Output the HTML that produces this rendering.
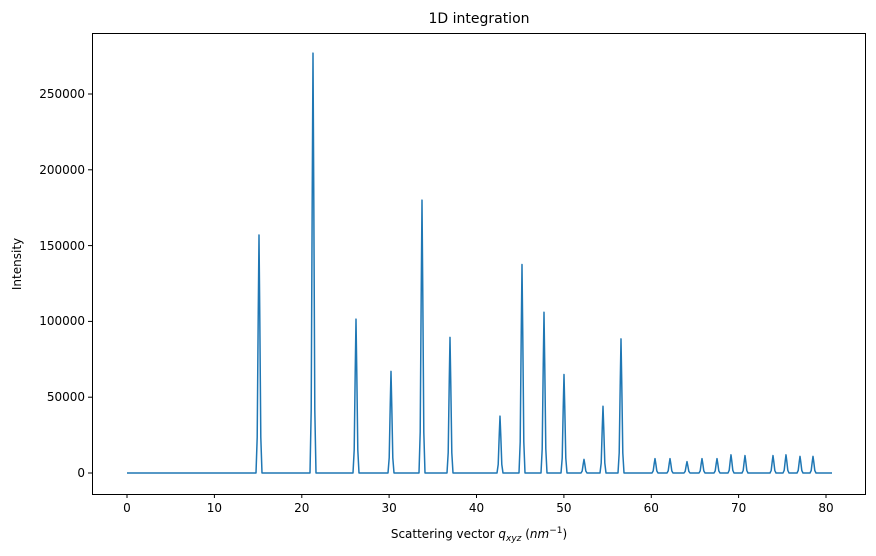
<!DOCTYPE html>
<html><head><meta charset="utf-8"><style>
body{margin:0;background:#fff;}
svg{display:block;font-family:"DejaVu Sans","Liberation Sans",sans-serif;}
</style></head><body>
<svg width="876" height="556" viewBox="0 0 876 556" xmlns="http://www.w3.org/2000/svg">
<rect width="876" height="556" fill="#fff"/>
<text x="479" y="23" font-size="14" text-anchor="middle" fill="#000">1D integration</text>
<rect x="92.5" y="33.5" width="773" height="461" fill="none" stroke="#000" stroke-width="1"/>
<g stroke="#000" stroke-width="1">
<line x1="127" y1="494" x2="127" y2="498"/><line x1="214.4" y1="494" x2="214.4" y2="498"/>
<line x1="301.8" y1="494" x2="301.8" y2="498"/><line x1="389.1" y1="494" x2="389.1" y2="498"/>
<line x1="476.5" y1="494" x2="476.5" y2="498"/><line x1="563.9" y1="494" x2="563.9" y2="498"/>
<line x1="651.3" y1="494" x2="651.3" y2="498"/><line x1="738.6" y1="494" x2="738.6" y2="498"/>
<line x1="826" y1="494" x2="826" y2="498"/>
<line x1="88" y1="473" x2="92" y2="473"/><line x1="88" y1="397.2" x2="92" y2="397.2"/>
<line x1="88" y1="321.4" x2="92" y2="321.4"/><line x1="88" y1="245.6" x2="92" y2="245.6"/>
<line x1="88" y1="169.8" x2="92" y2="169.8"/><line x1="88" y1="94" x2="92" y2="94"/>
</g>
<g font-size="12" fill="#000" text-anchor="middle">
<text x="127" y="512">0</text><text x="214.4" y="512">10</text><text x="301.8" y="512">20</text>
<text x="389.1" y="512">30</text><text x="476.5" y="512">40</text><text x="563.9" y="512">50</text>
<text x="651.3" y="512">60</text><text x="738.6" y="512">70</text><text x="826" y="512">80</text>
</g>
<g font-size="12" fill="#000" text-anchor="end">
<text x="85" y="477">0</text><text x="85" y="401">50000</text><text x="85" y="325">100000</text>
<text x="85" y="250">150000</text><text x="85" y="174">200000</text><text x="85" y="98">250000</text>
</g>
<text x="479" y="538" font-size="12" text-anchor="middle">Scattering vector <tspan font-style="italic">q</tspan><tspan font-style="italic" font-size="9" dy="3">xyz</tspan><tspan dy="-3"> (</tspan><tspan font-style="italic">nm</tspan><tspan font-size="9" dy="-5">−1</tspan><tspan dy="5">)</tspan></text>
<text transform="translate(21,264) rotate(-90)" font-size="12" text-anchor="middle">Intensity</text>
<path id="p" fill="none" stroke="#1f77b4" stroke-width="1.5" stroke-linejoin="round"/>
<script>
var pk=[[259,157000],[313,277000],[356,101500],[391,67000],[422,180000],[450,89500],[500,37500],[522,137500],[544,106000],[564,65000],[584,9000],[603,44000],[621,88500],[655,9500],[670,9500],[687,7500],[702,9500],[717,9500],[731,12000],[745,11500],[773,11500],[786,12000],[800,11000],[813,11000]];
var d="M127,473";
pk.forEach(function(p){var x=p[0],y=473-p[1]*0.001516,h=473-y;
d+=" L"+(x-3)+",473 L"+(x-1.8)+","+(473-h*0.15)+" L"+(x-0.8)+","+(473-h*0.65)+" L"+x+","+y+" L"+(x+0.8)+","+(473-h*0.65)+" L"+(x+1.8)+","+(473-h*0.15)+" L"+(x+3)+",473";});
d+=" L832,473";
document.getElementById("p").setAttribute("d",d);
</script>
</svg>
</body></html>
